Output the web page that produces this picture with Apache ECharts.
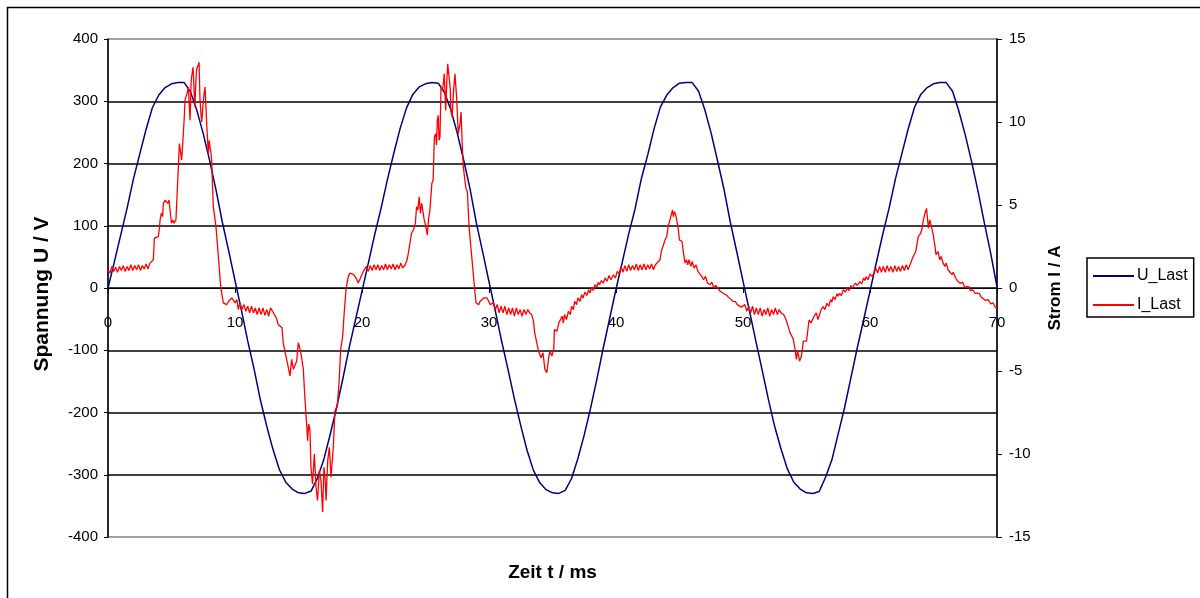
<!DOCTYPE html>
<html><head><meta charset="utf-8">
<script src="https://cdn.jsdelivr.net/npm/echarts@6/dist/echarts.min.js"></script>
<style>html,body{margin:0;padding:0;background:#fff}#c{width:1200px;height:598px}</style>
</head><body><div id="c"></div>
<script>
// ---- data ----
const seriesNames = ['U_Last', 'I_Last'];
const timeRange = [0, 70];          // ms
const voltageRange = [-400, 400];   // V
const currentRange = [-15, 15];     // A

// U_Last: [t (ms), U (V)]
const uLast = [
[0,0],[0.5,42],[1,85],[1.5,128],[2,175],[2.5,215],[3,255],[3.5,290],[4,310],[4.5,322],[5,328],[5.5,330],[6,330],[6.5,315],[7,285],[7.5,248],[8,205],[8.5,158],[9,106],[9.5,60],[10,12],
[10.5,-35],[11,-85],[11.5,-130],[12,-180],[12.5,-222],[13,-260],[13.5,-292],[14,-312],[14.5,-323],[15,-329],[15.5,-330],[16,-326],[16.5,-305],[17,-275],[17.5,-235],[18,-192],[18.5,-145],[19,-95],[19.5,-50],[20,-5],
[20.5,40],[21,86],[21.5,128],[22,174],[22.5,216],[23,256],[23.5,289],[24,311],[24.5,323],[25,328],[25.5,330],[26,329],[26.5,314],[27,286],[27.5,249],[28,206],[28.5,160],[29,105],[29.5,58],[30,10],
[30.5,-37],[31,-86],[31.5,-131],[32,-178],[32.5,-221],[33,-261],[33.5,-293],[34,-313],[34.5,-324],[35,-329],[35.5,-330],[36,-325],[36.5,-306],[37,-274],[37.5,-236],[38,-193],[38.5,-146],[39,-96],[39.5,-49],[40,-2],
[40.5,42],[41,87],[41.5,127],[42,176],[42.5,214],[43,256],[43.5,291],[44,310],[44.5,322],[45,329],[45.5,330],[46,330],[46.5,316],[47,286],[47.5,248],[48,204],[48.5,159],[49,106],[49.5,59],[50,11],
[50.5,-36],[51,-84],[51.5,-131],[52,-179],[52.5,-223],[53,-259],[53.5,-291],[54,-312],[54.5,-323],[55,-329],[55.5,-330],[56,-327],[56.5,-304],[57,-276],[57.5,-234],[58,-192],[58.5,-144],[59,-96],[59.5,-51],[60,-5],
[60.5,41],[61,86],[61.5,128],[62,175],[62.5,215],[63,255],[63.5,290],[64,311],[64.5,322],[65,328],[65.5,330],[66,330],[66.5,316],[67,284],[67.5,246],[68,203],[68.5,156],[69,105],[69.5,56],[70,2]
];

// I_Last: [t (ms), I (A)]
const iLast = [
[0,1.1],[0.15,0.9],[0.3,1.3],[0.45,1.0],[0.6,1.25],[0.75,0.95],[0.9,1.3],[1.05,1.05],[1.2,1.35],[1.35,1.0],[1.5,1.3],[1.65,1.05],[1.8,1.4],[1.95,1.05],[2.1,1.35],[2.25,1.1],[2.4,1.4],[2.55,1.05],[2.7,1.35],[2.85,1.15],[3.0,1.45],[3.15,1.15],[3.3,1.5],[3.45,1.4],
[3.57,1.7],[3.65,3.0],[3.96,3.1],[4.05,3.6],[4.1,4.1],[4.2,4.5],[4.3,4.3],[4.36,5.1],[4.5,5.3],[4.62,5.4],[4.7,5.1],[4.8,5.3],[4.9,5.3],[5.0,3.9],[5.1,4.1],[5.2,3.9],[5.35,4.1],[5.45,4.2],[5.54,7.3],[5.62,8.7],[5.72,8.6],[5.8,7.7],[5.9,8.9],[6.0,10.2],[6.06,11.3],[6.15,11.2],[6.25,11.8],[6.33,12.1],[6.4,11.0],[6.46,10.1],[6.55,12.5],[6.62,12.9],[6.7,13.3],[6.8,11.5],[6.85,10.9],[6.92,12.5],[6.98,13.2],[7.1,13.4],[7.17,13.6],[7.24,11.4],[7.32,10.5],[7.38,10.0],[7.48,11.0],[7.56,11.7],[7.64,12.1],[7.72,10.8],[7.77,9.9],[7.9,8.1],[7.97,8.9],[8.03,8.5],[8.1,8.2],[8.16,7.7],[8.29,4.9],[8.4,4.3],[8.5,3.7],[8.69,1.9],[8.87,0.1],[9.08,-0.9],[9.34,-1.0],[9.5,-0.8],[9.6,-0.7],[9.75,-0.6],[9.87,-0.5],[10.0,-0.9],[10.15,-0.7],[10.26,-1.3],
[10.39,-0.9],[10.55,-1.3],[10.7,-1.0],[10.85,-1.4],[11.0,-1.1],[11.15,-1.5],[11.3,-1.1],[11.45,-1.5],[11.6,-1.2],[11.75,-1.6],[11.9,-1.2],[12.05,-1.6],[12.2,-1.2],[12.35,-1.65],[12.5,-1.3],[12.65,-1.7],[12.8,-1.2],[12.95,-1.4],[13.1,-1.3],
[13.25,-1.8],[13.4,-2.2],[13.55,-2.1],[13.7,-2.4],[13.8,-3.3],[13.93,-3.8],[14.07,-3.7],[14.2,-4.8],[14.33,-5.3],[14.46,-4.3],[14.6,-4.9],[14.7,-4.7],[14.86,-4.4],[14.98,-3.3],[15.1,-3.6],[15.25,-4.2],[15.38,-4.9],[15.5,-6.6],[15.64,-8.2],[15.72,-9.2],[15.8,-8.2],[15.9,-8.5],[15.98,-10.8],[16.1,-11.8],[16.25,-10.0],[16.38,-12.0],[16.5,-12.8],[16.64,-11.0],[16.77,-11.6],[16.9,-13.5],[17.0,-10.8],[17.1,-11.5],[17.17,-12.8],[17.3,-10.4],[17.43,-9.6],[17.56,-11.4],[17.65,-10.5],[17.74,-9.6],[17.87,-7.4],[18.06,-7.1],[18.2,-5.6],[18.32,-3.7],[18.48,-2.9],[18.58,-1.7],[18.74,-0.1],[18.92,0.7],[19.05,0.9],[19.2,0.9],[19.35,0.8],[19.45,0.85],[19.6,0.5],[19.7,0.3],[19.85,0.55],[19.97,0.5],[20.1,1.0],[20.2,1.1],
[20.35,1.3],[20.5,1.0],[20.65,1.35],[20.8,1.05],[20.95,1.4],[21.1,1.1],[21.25,1.4],[21.4,1.05],[21.55,1.35],[21.7,1.1],[21.85,1.45],[22.0,1.1],[22.15,1.4],[22.3,1.15],[22.45,1.45],[22.6,1.1],[22.75,1.4],[22.9,1.15],[23.05,1.5],[23.2,1.2],[23.4,1.4],
[23.55,1.7],[23.65,2.1],[23.8,2.2],[23.9,3.3],[24.05,3.5],[24.2,3.9],[24.3,4.9],[24.4,4.7],[24.5,5.5],[24.6,4.5],[24.7,5.1],[24.8,4.6],[24.9,4.1],[25.0,3.8],[25.14,3.2],[25.25,4.2],[25.35,4.7],[25.5,6.3],[25.6,6.5],[25.7,9.1],[25.8,9.3],[25.87,8.6],[25.93,10.1],[26.0,10.4],[26.07,8.9],[26.14,9.1],[26.22,12.1],[26.35,11.9],[26.48,12.9],[26.59,10.7],[26.68,12.5],[26.75,13.5],[26.88,13.6],[26.95,12.0],[27.0,10.7],[27.1,10.3],[27.2,11.8],[27.32,12.9],[27.45,11.5],[27.58,9.3],[27.65,9.6],[27.72,9.9],[27.8,10.6],[27.9,8.5],[27.98,7.3],[28.1,6.5],[28.19,6.0],[28.3,5.8],[28.43,3.7],[28.64,1.9],[28.85,0.1],[28.98,-0.9],[29.2,-1.0],[29.3,-0.8],[29.45,-0.7],[29.6,-0.6],[29.7,-0.5],[29.85,-0.6],[29.97,-0.7],[30.1,-1.0],[30.2,-1.1],
[30.35,-0.9],[30.5,-1.3],[30.65,-1.0],[30.8,-1.5],[30.95,-1.1],[31.1,-1.5],[31.25,-1.1],[31.4,-1.6],[31.55,-1.2],[31.7,-1.6],[31.85,-1.2],[32.0,-1.7],[32.15,-1.2],[32.3,-1.6],[32.45,-1.3],[32.6,-1.7],[32.75,-1.3],[32.9,-1.6],[33.05,-1.3],[33.2,-1.5],[33.36,-1.6],
[33.5,-2.0],[33.6,-2.7],[33.7,-2.8],[33.9,-3.8],[34.0,-3.9],[34.1,-4.2],[34.25,-3.9],[34.4,-4.9],[34.55,-5.1],[34.7,-4.2],[34.8,-3.8],[34.95,-4.1],[35.1,-3.7],[35.15,-2.5],[35.25,-2.4],[35.35,-2.6],[35.5,-2.1],[35.6,-2.2],[35.76,-1.7],[35.85,-2.1],
[35.95,-1.6],[36.1,-1.9],[36.25,-1.4],[36.4,-1.6],[36.5,-1.1],[36.64,-1.3],[36.75,-0.8],[36.9,-1.0],[37.0,-0.6],[37.17,-0.8],[37.3,-0.4],[37.4,-0.6],[37.55,-0.25],[37.7,-0.45],[37.85,-0.1],[37.95,-0.3],[38.1,0.05],[38.2,-0.15],[38.35,0.2],[38.5,0.05],[38.6,0.35],[38.7,0.2],[38.85,0.45],[39.0,0.3],[39.15,0.6],[39.3,0.4],[39.45,0.75],[39.6,0.5],[39.8,0.8],[39.95,0.6],[40.1,1.0],[40.25,0.85],
[40.4,1.3],[40.55,0.95],[40.7,1.35],[40.85,1.0],[41.0,1.4],[41.15,1.05],[41.3,1.35],[41.45,1.1],[41.6,1.45],[41.75,1.05],[41.9,1.4],[42.05,1.1],[42.2,1.45],[42.35,1.1],[42.5,1.4],[42.65,1.15],[42.8,1.45],[42.95,1.1],[43.1,1.4],[43.25,1.3],
[43.46,1.7],[43.6,2.3],[43.7,2.5],[43.86,2.9],[44.0,3.1],[44.1,3.7],[44.25,4.1],[44.38,4.5],[44.45,4.7],[44.52,4.3],[44.6,4.6],[44.7,4.4],[44.8,4.5],[44.9,3.6],[44.99,2.9],[45.1,3.0],[45.2,2.8],[45.3,2.2],[45.43,1.5],[45.55,1.7],[45.65,1.4],[45.75,1.7],[45.9,1.3],[46.0,1.6],[46.15,1.2],[46.3,1.4],[46.45,1.0],[46.6,1.1],[46.75,0.7],[46.9,0.5],[47.05,0.7],[47.2,0.3],[47.4,0.2],[47.55,0.35],[47.7,0.0],[47.85,0.15],[48.06,-0.02],[48.2,-0.2],[48.35,-0.1],[48.5,-0.35],[48.7,-0.42],[48.85,-0.55],[49.0,-0.5],[49.2,-0.8],[49.4,-0.82],[49.55,-1.0],[49.7,-0.9],[49.85,-1.15],[50.0,-1.12],
[50.15,-1.0],[50.3,-1.4],[50.45,-1.1],[50.6,-1.5],[50.75,-1.1],[50.9,-1.6],[51.05,-1.2],[51.2,-1.6],[51.35,-1.2],[51.5,-1.7],[51.65,-1.3],[51.8,-1.6],[51.95,-1.2],[52.1,-1.7],[52.25,-1.3],[52.4,-1.6],[52.55,-1.2],[52.7,-1.6],[52.85,-1.3],[53.0,-1.5],[53.2,-1.6],
[53.4,-1.93],[53.55,-2.3],[53.7,-2.7],[53.85,-2.9],[53.96,-3.1],[54.1,-3.7],[54.2,-4.3],[54.3,-3.8],[54.46,-4.4],[54.6,-4.1],[54.75,-3.2],[54.9,-3.3],[55.0,-3.2],[55.2,-1.93],[55.35,-2.1],[55.5,-2.0],[55.6,-1.7],[55.77,-1.5],[55.9,-1.9],[56.0,-1.8],[56.15,-1.3],[56.3,-1.12],
[56.45,-1.3],[56.6,-0.92],[56.75,-1.1],[56.9,-0.7],[57.0,-0.85],[57.1,-0.52],[57.25,-0.7],[57.4,-0.35],[57.5,-0.5],[57.6,-0.32],[57.75,-0.45],[57.9,-0.1],[58.05,-0.25],[58.2,-0.02],[58.35,-0.15],[58.5,0.15],[58.6,0.0],[58.7,0.08],[58.85,0.3],[59.0,0.15],[59.2,0.38],[59.35,0.25],[59.5,0.6],[59.6,0.45],[59.7,0.68],[59.85,0.5],[60.0,0.85],[60.15,0.7],[60.3,0.88],
[60.45,1.2],[60.6,0.9],[60.75,1.3],[60.9,0.95],[61.05,1.3],[61.2,0.95],[61.35,1.35],[61.5,1.0],[61.65,1.3],[61.8,0.95],[61.95,1.35],[62.1,1.0],[62.25,1.3],[62.4,1.0],[62.55,1.35],[62.7,1.05],[62.85,1.4],[63.0,1.1],[63.15,1.4],[63.25,1.5],
[63.4,1.9],[63.6,2.2],[63.8,3.1],[64.0,3.3],[64.1,3.6],[64.2,4.1],[64.33,4.5],[64.45,4.8],[64.5,4.7],[64.6,3.6],[64.7,4.1],[64.8,4.0],[64.9,3.5],[65.0,3.1],[65.1,2.6],[65.2,2.0],[65.35,2.2],[65.5,1.7],[65.6,1.9],[65.75,1.5],[65.9,1.3],[66.0,1.5],[66.15,1.1],[66.3,1.1],[66.45,0.8],[66.55,0.95],[66.7,0.68],[66.85,0.45],[67.0,0.55],[67.1,0.28],[67.3,0.35],[67.45,0.05],[67.6,-0.02],[67.75,0.1],[67.9,-0.15],[68.1,-0.12],[68.25,-0.3],[68.4,-0.2],[68.6,-0.32],[68.75,-0.55],[68.9,-0.45],[69.1,-0.75],[69.3,-0.7],[69.5,-0.95],[69.7,-0.9],[69.85,-1.15],[70.0,-1.2]
];

// ---- chart ----
const FONT = '"Liberation Sans", Arial, sans-serif';
const chart = echarts.init(document.getElementById('c'), null, {renderer: 'canvas'});
chart.setOption({
  animation: false,
  backgroundColor: '#ffffff',
  textStyle: {fontFamily: FONT, color: '#000'},
  graphic: [{
    type: 'rect', silent: true, z: 0,
    shape: {x: 7.5, y: 7.5, width: 1300, height: 700},
    style: {fill: 'none', stroke: '#000', lineWidth: 1.5}
  }],
  grid: {
    left: 108, right: 203, top: 39, bottom: 61,
    containLabel: false, outerBoundsMode: 'none',
    show: true, borderColor: '#808080', borderWidth: 1.5, backgroundColor: 'transparent'
  },
  legend: {
    data: seriesNames.map(n => ({name: n, icon: 'rect'})),
    orient: 'vertical',
    left: 1087, top: 258,
    itemWidth: 41, itemHeight: 2, itemGap: 13,
    padding: [10, 6, 4, 6],
    borderColor: '#000', borderWidth: 1.5,
    textStyle: {fontFamily: FONT, fontSize: 16, color: '#000', padding: [0, 0, 0, -2]}
  },
  xAxis: {
    type: 'value', min: timeRange[0], max: timeRange[1], interval: 10,
    position: 'bottom', offset: -249,   // axis sits on U = 0 (grid 537 -> 288)
    name: 'Zeit t / ms', nameLocation: 'middle', nameGap: 275,
    nameTextStyle: {fontFamily: FONT, fontSize: 19, fontWeight: 'bold', color: '#000'},
    axisLine: {show: true, onZero: false, lineStyle: {color: '#000', width: 1}},
    axisTick: {show: true, length: 5, lineStyle: {color: '#000'}},
    axisLabel: {fontFamily: FONT, fontSize: 15, color: '#000', margin: 27},
    splitLine: {show: false}
  },
  yAxis: [{
    type: 'value', min: voltageRange[0], max: voltageRange[1], interval: 100,
    name: 'Spannung U / V', nameLocation: 'middle', nameGap: 55, nameRotate: 90,
    nameTextStyle: {fontFamily: FONT, fontSize: 21, fontWeight: 'bold', color: '#000', padding: [0, 12, 0, 0]},
    axisLine: {show: true, onZero: false, lineStyle: {color: '#000', width: 1.5}},
    axisTick: {show: true, length: 4, lineStyle: {color: '#000'}},
    axisLabel: {fontFamily: FONT, fontSize: 15, color: '#000', margin: 10},
    splitLine: {show: true, showMinLine: false, showMaxLine: false, lineStyle: {color: '#000', width: 1.5}}
  }, {
    type: 'value', min: currentRange[0], max: currentRange[1], interval: 5,
    position: 'right',
    name: 'Strom I / A', nameLocation: 'middle', nameGap: 50, nameRotate: 90,
    nameTextStyle: {fontFamily: FONT, fontSize: 17, fontWeight: 'bold', color: '#000'},
    axisLine: {show: true, onZero: false, lineStyle: {color: '#000', width: 1.5}},
    axisTick: {show: true, length: 5, lineStyle: {color: '#000'}},
    axisLabel: {fontFamily: FONT, fontSize: 15, color: '#000', margin: 12},
    splitLine: {show: false}
  }],
  series: [{
    name: seriesNames[0], type: 'line', yAxisIndex: 0, data: uLast,
    showSymbol: false, symbol: 'none', color: '#000080',
    lineStyle: {color: '#000080', width: 1.5}, z: 3
  }, {
    name: seriesNames[1], type: 'line', yAxisIndex: 1, data: iLast,
    showSymbol: false, symbol: 'none', color: '#ff0000',
    lineStyle: {color: '#ff0000', width: 1.3}, z: 4
  }]
});
</script>
</body></html>
